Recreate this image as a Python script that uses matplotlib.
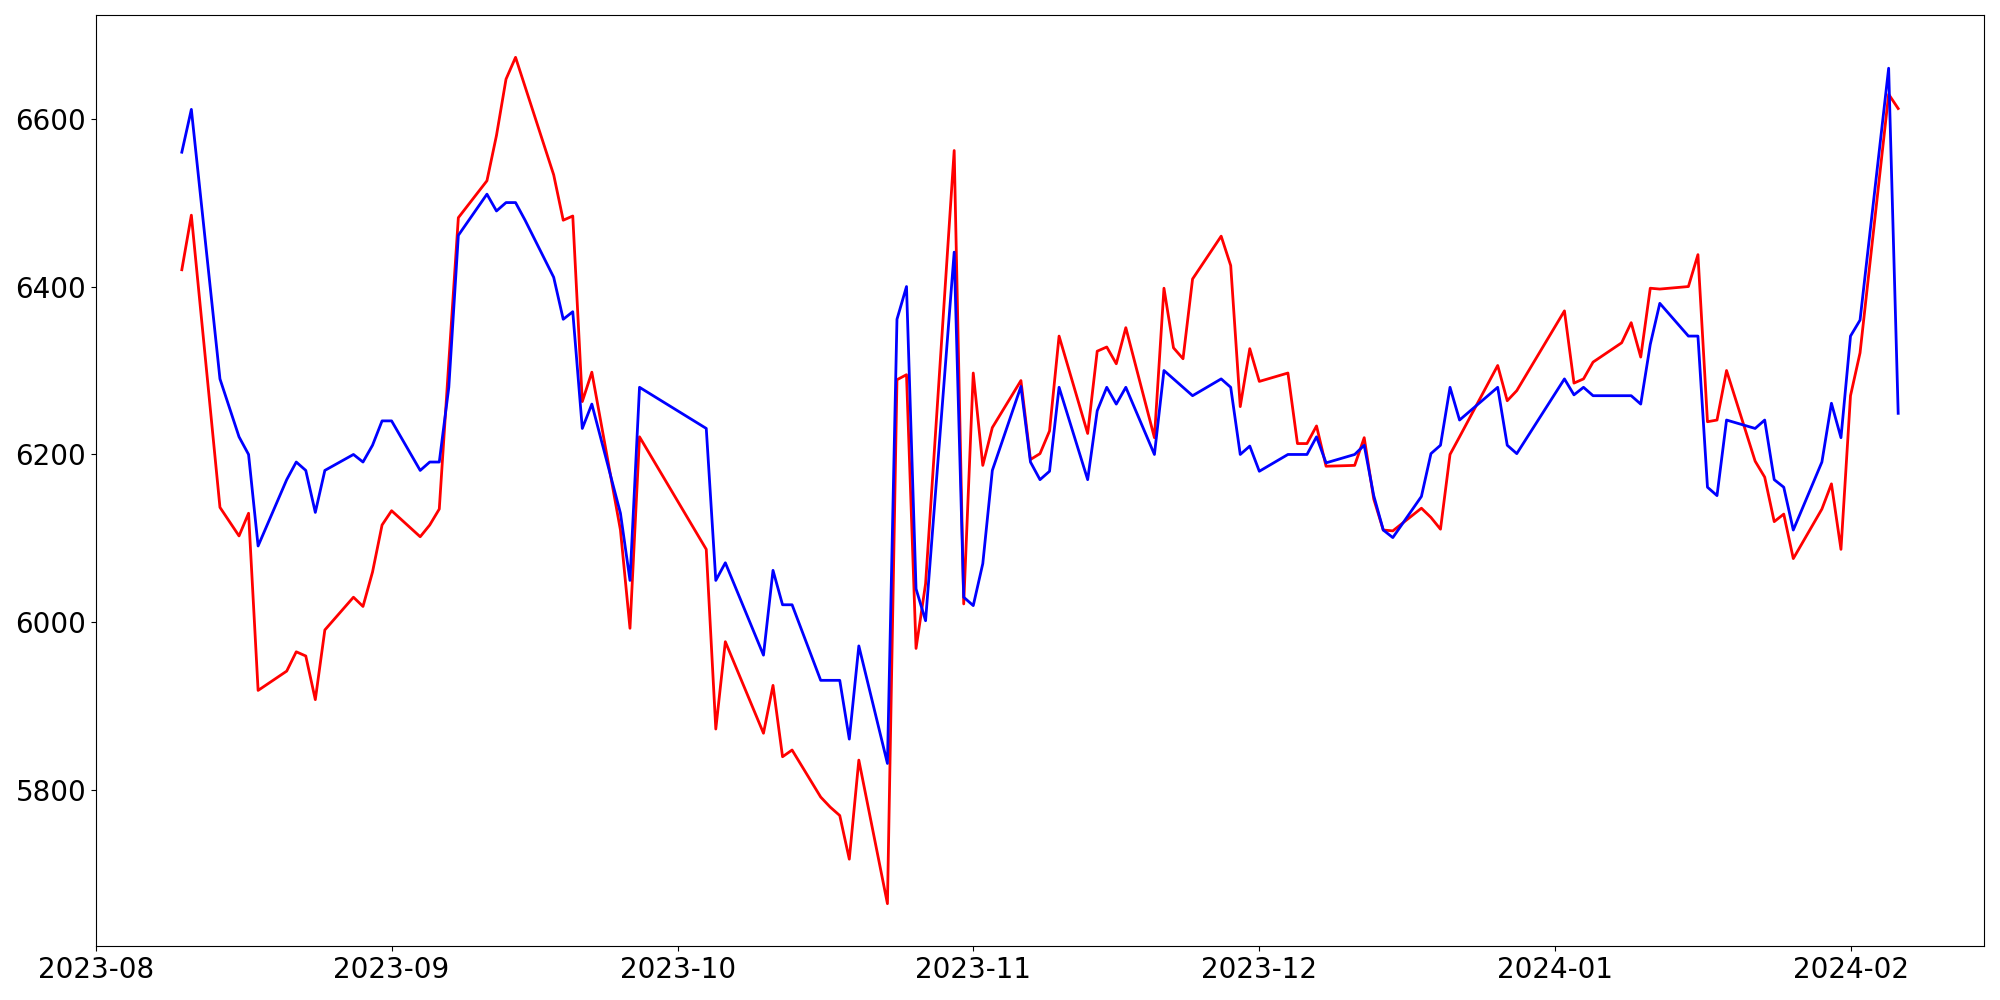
import pandas as pd
import matplotlib
matplotlib.use('Agg')
import matplotlib.pyplot as plt

dates = ['2023-08-10', '2023-08-11', '2023-08-14', '2023-08-16', '2023-08-17', '2023-08-18',
         '2023-08-21', '2023-08-22', '2023-08-23', '2023-08-24', '2023-08-25',
         '2023-08-28', '2023-08-29', '2023-08-30', '2023-08-31', '2023-09-01',
         '2023-09-04', '2023-09-05', '2023-09-06', '2023-09-07', '2023-09-08',
         '2023-09-11', '2023-09-12', '2023-09-13', '2023-09-14', '2023-09-15',
         '2023-09-18', '2023-09-19', '2023-09-20', '2023-09-21', '2023-09-22',
         '2023-09-25', '2023-09-26', '2023-09-27', '2023-10-04', '2023-10-05', '2023-10-06',
         '2023-10-10', '2023-10-11', '2023-10-12', '2023-10-13',
         '2023-10-16', '2023-10-17', '2023-10-18', '2023-10-19', '2023-10-20',
         '2023-10-23', '2023-10-24', '2023-10-25', '2023-10-26', '2023-10-27',
         '2023-10-30', '2023-10-31', '2023-11-01', '2023-11-02', '2023-11-03',
         '2023-11-06', '2023-11-07', '2023-11-08', '2023-11-09', '2023-11-10',
         '2023-11-13', '2023-11-14', '2023-11-15', '2023-11-16', '2023-11-17',
         '2023-11-20', '2023-11-21', '2023-11-22', '2023-11-23', '2023-11-24',
         '2023-11-27', '2023-11-28', '2023-11-29', '2023-11-30', '2023-12-01',
         '2023-12-04', '2023-12-05', '2023-12-06', '2023-12-07', '2023-12-08',
         '2023-12-11', '2023-12-12', '2023-12-13', '2023-12-14', '2023-12-15',
         '2023-12-18', '2023-12-19', '2023-12-20', '2023-12-21', '2023-12-22',
         '2023-12-26', '2023-12-27', '2023-12-28',
         '2024-01-02', '2024-01-03', '2024-01-04', '2024-01-05',
         '2024-01-08', '2024-01-09', '2024-01-10', '2024-01-11', '2024-01-12',
         '2024-01-15', '2024-01-16', '2024-01-17', '2024-01-18', '2024-01-19',
         '2024-01-22', '2024-01-23', '2024-01-24', '2024-01-25', '2024-01-26',
         '2024-01-29', '2024-01-30', '2024-01-31', '2024-02-01', '2024-02-02',
         '2024-02-05', '2024-02-06']

red = [6420, 6485, 6137, 6103, 6130, 5919,
       5942, 5965, 5960, 5908, 5991,
       6030, 6019, 6060, 6116, 6133,
       6102, 6116, 6135, 6310, 6482,
       6526, 6580, 6647, 6673, 6638,
       6533, 6479, 6484, 6263, 6298,
       6110, 5993, 6221, 6087, 5873, 5977,
       5868, 5925, 5840, 5848,
       5792, 5780, 5770, 5718, 5836,
       5665, 6289, 6295, 5969, 6046,
       6562, 6022, 6297, 6187, 6232,
       6288, 6194, 6201, 6228, 6341,
       6225, 6323, 6328, 6308, 6351,
       6220, 6398, 6327, 6314, 6409,
       6460, 6425, 6257, 6326, 6287,
       6297, 6213, 6213, 6234, 6186,
       6187, 6220, 6147, 6110, 6109,
       6136, 6125, 6111, 6200, 6221,
       6306, 6264, 6276,
       6371, 6285, 6290, 6310,
       6333, 6357, 6316, 6398, 6397,
       6400, 6438, 6239, 6241, 6300,
       6192, 6173, 6120, 6129, 6076,
       6135, 6165, 6087, 6270, 6321,
       6629, 6612]

blue = [6560, 6611, 6290, 6221, 6200, 6091,
        6170, 6191, 6181, 6131, 6181,
        6200, 6191, 6211, 6240, 6240,
        6181, 6191, 6191, 6280, 6461,
        6510, 6490, 6500, 6500, 6479,
        6411, 6361, 6370, 6231, 6260,
        6130, 6050, 6280, 6231, 6050, 6071,
        5961, 6062, 6021, 6021,
        5931, 5931, 5931, 5861, 5972,
        5832, 6361, 6400, 6040, 6002,
        6441, 6030, 6020, 6070, 6181,
        6281, 6191, 6170, 6180, 6280,
        6170, 6252, 6280, 6260, 6280,
        6200, 6300, 6290, 6280, 6270,
        6290, 6280, 6200, 6210, 6180,
        6200, 6200, 6200, 6221, 6190,
        6200, 6211, 6151, 6110, 6101,
        6150, 6201, 6211, 6280, 6241,
        6280, 6211, 6201,
        6290, 6271, 6280, 6270,
        6270, 6270, 6260, 6331, 6380,
        6341, 6341, 6161, 6151, 6241,
        6231, 6241, 6170, 6161, 6110,
        6191, 6261, 6220, 6341, 6360,
        6660, 6249]

x = pd.to_datetime(dates)

fig, ax = plt.subplots(figsize=(20, 10), dpi=100)
ax.plot(x, red, color='red', linewidth=2)
ax.plot(x, blue, color='blue', linewidth=2)
ax.tick_params(labelsize=20)
plt.subplots_adjust(left=0.048, right=0.992, top=0.985, bottom=0.054)
plt.savefig('out.png')
